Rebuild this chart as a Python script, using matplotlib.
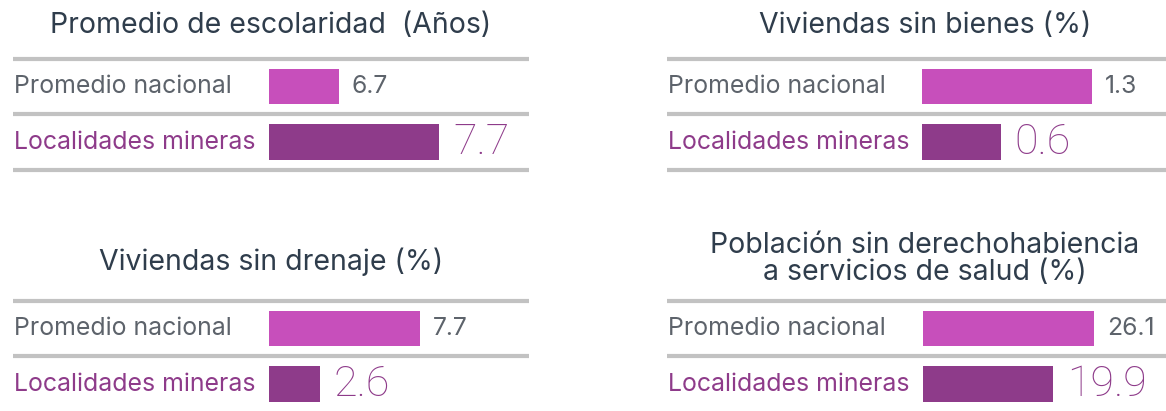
import matplotlib
matplotlib.use("Agg")
import matplotlib.pyplot as plt
import matplotlib.transforms as mtransforms

categorias = ["Promedio nacional", "Localidades mineras"]
titulos = ["Promedio de escolaridad  (Años)", "Viviendas sin bienes (%)",
           "Viviendas sin drenaje (%)", "Población sin derechohabiencia\na servicios de salud (%)"]
escolaridad = [6.7, 7.7]
sin_bienes = [1.3, 0.6]
sin_drenaje = [7.7, 2.6]
sin_salud = [26.1, 19.9]
etiquetas = [["6.7", "7.7"], ["1.3", "0.6"], ["7.7", "2.6"], ["26.1", "19.9"]]

W, H = 1166, 411
col_barras = ["#c74fbb", "#8e3b8a"]
col_texto = ["#5d636b", "#8e3b8a"]
col_titulo = "#2f3d4c"
col_linea = "#c2c2c2"

plt.rcParams['font.family'] = ['Inter', 'DejaVu Sans']

fig = plt.figure(figsize=(W / 100, H / 100), dpi=100)

# (bar start px, axes right px, line start px, top line px, x min, x max, title center px, title baseline px)
paneles = [
    (269, 529, 13, 58.7, 6.0, 8.6, 271, 33),
    (922, 1166, 667, 58.7, 0.0, 1.863, 925, 33),
    (269, 529, 13, 300.5, 0.0, 13.27, 271, 270),
    (923, 1166, 667, 300.5, 0.0, 37.1, 925, 280),
]
datos = [escolaridad, sin_bienes, sin_drenaje, sin_salud]

for i, (x0, x1, lx, top, xmin, xmax, tcx, tby) in enumerate(paneles):
    alto = 111.5
    ax = fig.add_axes([x0 / W, 1 - (top + alto) / H, (x1 - x0) / W, alto / H])
    vals = datos[i]
    ax.barh([0, 1], vals, height=0.64, color=col_barras, left=0)
    ax.set_xlim(xmin, xmax)
    ax.set_ylim(1.5, -0.5)
    ax.axis("off")

    # separator lines from label start to panel end (bottom row is cut off)
    trans = mtransforms.blended_transform_factory(fig.transFigure, ax.transData)
    lineas = [-0.5, 0.5, 1.5] if i < 2 else [-0.5, 0.5]
    for yl in lineas:
        ax.plot([lx / W, x1 / W], [yl, yl], transform=trans, color=col_linea,
                lw=3, clip_on=False, solid_capstyle="butt")

    # category labels
    for j, cat in enumerate(categorias):
        ax.text((lx + 1) / W, j, cat, transform=trans, ha="left", va="center",
                fontsize=17.9, color=col_texto[j])

    # value labels
    pix = (x1 - x0) / (xmax - xmin)
    ax.text(vals[0] + 13 / pix, 0, etiquetas[i][0], ha="left", va="center",
            fontsize=17.8, color=col_texto[0])
    ax.text(vals[1] + 14 / pix, 1.0, etiquetas[i][1], ha="left", va="center",
            fontsize=31, color=col_texto[1], family=['Roboto', 'DejaVu Sans'],
            fontweight="light", fontstretch="condensed")

    fig.text(tcx / W, 1 - tby / H, titulos[i], ha="center", va="baseline",
             fontsize=20.5, color=col_titulo, linespacing=1.02)

fig.savefig("out.png", dpi=100)
